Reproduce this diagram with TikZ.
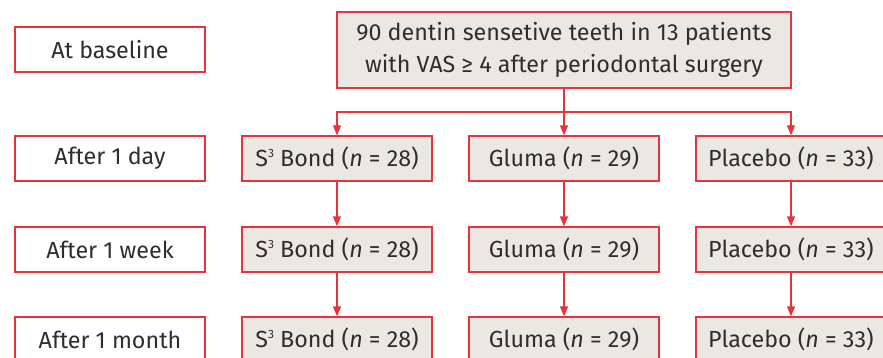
\documentclass[tikz,border=0pt]{standalone}
\usepackage{fontspec}
\setmainfont{Fira Sans}
\usetikzlibrary{arrows.meta}
\definecolor{bred}{HTML}{E8333C}
\definecolor{bfill}{HTML}{EBE7E3}
\definecolor{btext}{HTML}{2E2E2E}
\newcommand{\supthree}{\raisebox{0.75ex}{\fontsize{12}{12}\selectfont 3}}
\tikzset{
  x=1pt,y=1pt,
  lbox/.style={draw=bred,line width=1.3pt,fill=white,minimum width=190pt,minimum height=45pt,inner sep=0pt,text=btext,font=\fontsize{23.3}{27}\selectfont},
  gbox/.style={lbox,fill=bfill},
  tbox/.style={gbox,minimum width=454pt,minimum height=76pt,align=center,font=\fontsize{23.3}{32}\selectfont},
  arr/.style={draw=bred,line width=1.3pt,-{Triangle[length=10pt,width=8pt]}}
}
\begin{document}
\begin{tikzpicture}
\useasboundingbox (0,0) rectangle (883,-358);
\clip (0,0) rectangle (883,-358);
\node[lbox] (base) at (110,-49.5) {At baseline};
\node[lbox] (day) at (110,-158.5) {After 1 day};
\node[lbox] (week) at (110,-249.5) {After 1 week};
\node[lbox] (month) at (110,-339.5) {After 1 month};
\node[tbox] (top) at (564,-50) {90 dentin sensetive teeth in 13 patients\\with VAS ≥ 4 after periodontal surgery};
\node[gbox] (s1) at (337,-158.5) {S\supthree{} Bond (\textit{n} = 28)};
\node[gbox] (g1) at (564,-158.5) {Gluma (\textit{n} = 29)};
\node[gbox] (p1) at (791,-158.5) {Placebo (\textit{n} = 33)};
\node[gbox] (s2) at (337,-249.5) {S\supthree{} Bond (\textit{n} = 28)};
\node[gbox] (g2) at (564,-249.5) {Gluma (\textit{n} = 29)};
\node[gbox] (p2) at (791,-249.5) {Placebo (\textit{n} = 33)};
\node[gbox] (s3) at (337,-339.5) {S\supthree{} Bond (\textit{n} = 28)};
\node[gbox] (g3) at (564,-339.5) {Gluma (\textit{n} = 29)};
\node[gbox] (p3) at (791,-339.5) {Placebo (\textit{n} = 33)};
\coordinate (split) at (564,-112);
\draw[arr] (top.south) -- (g1.north);
\draw[arr] (split) -| (s1.north);
\draw[arr] (split) -| (p1.north);
\draw[arr] (s1) -- (s2);
\draw[arr] (g1) -- (g2);
\draw[arr] (p1) -- (p2);
\draw[arr] (s2) -- (s3);
\draw[arr] (g2) -- (g3);
\draw[arr] (p2) -- (p3);
\end{tikzpicture}
\end{document}
